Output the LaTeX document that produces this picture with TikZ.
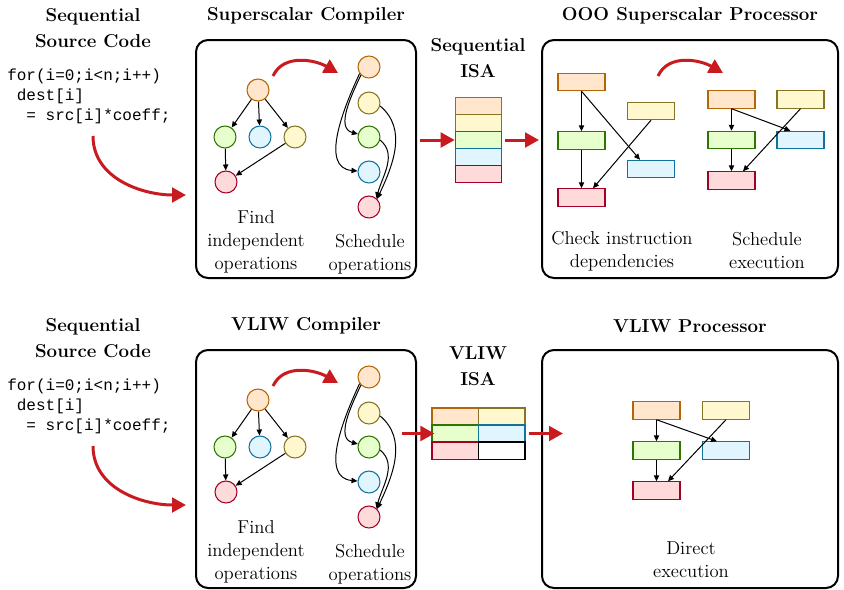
\documentclass[tikz,border=0pt]{standalone}
\usepackage{fontspec}
\usepackage{tikz}
\usetikzlibrary{arrows.meta}
\newfontfamily\codefont{Liberation Mono}

\definecolor{oFill}{HTML}{FFE6CC}
\definecolor{oLine}{HTML}{B46504}
\definecolor{yFill}{HTML}{FFF8CF}
\definecolor{yLine}{HTML}{857524}
\definecolor{gFill}{HTML}{E6FFCC}
\definecolor{gLine}{HTML}{2D7600}
\definecolor{bFill}{HTML}{E1F5FE}
\definecolor{bLine}{HTML}{10739E}
\definecolor{rFill}{HTML}{FFDADA}
\definecolor{rLine}{HTML}{A20025}
\definecolor{flowRed}{HTML}{C91B1F}

\begin{document}
\begin{tikzpicture}[x=0.75pt,y=0.75pt,yscale=-1,xscale=1,
  op/.style={circle, line width=0.8pt, minimum size=16.5pt, inner sep=0pt},
  ins/.style={rectangle, line width=0.8pt, minimum width=35.25pt, minimum height=13pt, inner sep=0pt},
  cell/.style={rectangle, line width=0.8pt, minimum width=34.9pt, minimum height=12.8pt, inner sep=0pt},
  orng/.style={fill=oFill, draw=oLine},
  yllw/.style={fill=yFill, draw=yLine},
  grn/.style={fill=gFill, draw=gLine},
  blu/.style={fill=bFill, draw=bLine},
  rd/.style={fill=rFill, draw=rLine},
  panel/.style={draw, line width=1.5pt, rounded corners=9pt, inner sep=0pt, minimum height=178.5pt},
  heading/.style={font=\fontsize{14}{19.5}\selectfont\bfseries, align=center, inner sep=0pt},
  txt/.style={font=\fontsize{14}{17.25}\selectfont, align=center, inner sep=0pt},
  code/.style={font=\codefont\fontsize{12}{15}\selectfont, align=left, inner sep=0pt, anchor=north west},
  dep/.style={-{Triangle[length=4.5pt,width=4pt]}, line width=0.75pt},
  flow/.style={-{Triangle[length=10.5pt,width=11pt]}, line width=2.25pt, draw=flowRed}]
\useasboundingbox (0,0) rectangle (844,590);

%%%%%%%%%%%%%%%% Superscalar row %%%%%%%%%%%%%%%%
%Text: titles
\node[heading] (srcT1) at (93,28) {Sequential\\Source Code};
\node[heading] (compT1) at (306,16) {Superscalar Compiler};
\node[heading] (isaT1) at (478,58) {Sequential\\ISA};
\node[heading] (procT1) at (690,16) {OOO Superscalar Processor};
%Text: source code
\node[code] (code1) at (7,69) {for(i=0;i<n;i++)\\\hphantom{x}dest[i]\\\hphantom{xx}= src[i]*coeff;};
%Rounded Rect: compiler and processor
\node[panel, minimum width=165pt] (comp1) at (306,159) {};
\node[panel, minimum width=222pt] (proc1) at (690,159) {};

%Curve Lines: code to compiler
\coordinate (cS1) at (93,136);
\coordinate (cE1) at (186,195);
\draw[flow] (cS1) to[out=90,in=180] (cE1);

%Shape: Circle -- dependence graph
\node[op, orng] (a1) at (258,90) {};
\node[op, grn] (a2) at (225,137) {};
\node[op, blu] (a3) at (260,137) {};
\node[op, yllw] (a4) at (295,137) {};
\node[op, rd] (a5) at (226,182) {};
\draw[dep] (a1) -- (a2);
\draw[dep] (a1) -- (a3);
\draw[dep] (a1) -- (a4);
\draw[dep] (a2) -- (a5);
\draw[dep] (a4) -- (a5);

%Curve Lines: find -> schedule
\coordinate (kS1) at (273,76);
\coordinate (kE1) at (338,73);
\draw[flow] (kS1) to[out=-65,in=-150] (kE1);

%Shape: Circle -- scheduled column
\node[op, orng] (s1) at (369,67) {};
\node[op, yllw] (s2) at (369,103) {};
\node[op, grn] (s3) at (369,137) {};
\node[op, blu] (s4) at (369,172) {};
\node[op, rd] (s5) at (369,207) {};
\draw[dep] (s1.225) to[out=115,in=195] (s3.165);
\draw[dep] (s1.215) to[out=115,in=185] (s4.175);
\draw[dep] (s2.-15) to[out=40,in=-65] (s5.45);
\draw[dep] (s3.-15) to[out=40,in=-75] (s5.50);

%Text: compiler labels
\node[txt] (find1) at (256,242) {Find\\independent\\operations};
\node[txt] (sched1) at (370,254) {Schedule\\operations};

%Shape: Rectangle -- sequential ISA
\node[cell, orng] (isa1) at (478.5,105.6) {};
\node[cell, yllw] (isa2) at (478.5,122.8) {};
\node[cell, grn] (isa3) at (478.5,140) {};
\node[cell, blu] (isa4) at (478.5,157.2) {};
\node[cell, rd] (isa5) at (478.5,174.4) {};

%Straight Lines
\draw[flow, shorten <=2.25pt] (comp1.east |- isa3.west) -- (isa3.west);
\draw[flow, shorten <=2.25pt, shorten >=1.5pt] (isa3.east) -- (proc1.west |- isa3.east);

%Shape: Rectangle -- dependency check
\node[ins, orng] (b1) at (581.5,82) {};
\node[ins, yllw] (b2) at (651,111) {};
\node[ins, grn] (b3) at (581.5,140.5) {};
\node[ins, blu] (b4) at (651,169) {};
\node[ins, rd] (b5) at (581.5,197.5) {};
\draw[dep] (b1.south) -- (b3.north);
\draw[dep] (b1.south) -- ([xshift=-8.25pt]b4.north);
\draw[dep] (b3.south) -- (b5.north);
\draw[dep] (b2.south) -- ([xshift=8.6pt]b5.north);

%Curve Lines: check -> schedule
\coordinate (kS2) at (658,76);
\coordinate (kE2) at (723,73);
\draw[flow] (kS2) to[out=-65,in=-150] (kE2);

%Shape: Rectangle -- scheduled execution
\node[ins, orng] (c1) at (731.5,99.5) {};
\node[ins, yllw] (c2) at (800.5,99.5) {};
\node[ins, grn] (c3) at (731.5,140) {};
\node[ins, blu] (c4) at (800.5,140) {};
\node[ins, rd] (c5) at (731.5,180.5) {};
\draw[dep] (c1.south) -- (c3.north);
\draw[dep] (c1.south) -- ([xshift=-7.5pt]c4.north);
\draw[dep] (c3.south) -- (c5.north);
\draw[dep] (c2.south) -- ([xshift=8.6pt]c5.north);

%Text: processor labels
\node[txt] (check1) at (622,251) {Check instruction\\dependencies};
\node[txt] (exec1) at (767,251) {Schedule\\execution};

%%%%%%%%%%%%%%%% VLIW row %%%%%%%%%%%%%%%%
%Text: titles
\node[heading] (srcT2) at (93,338) {Sequential\\Source Code};
\node[heading] (compT2) at (306,326) {VLIW Compiler};
\node[heading] (isaT2) at (478,366) {VLIW\\ISA};
\node[heading] (procT2) at (690,326) {VLIW Processor};
%Text: source code
\node[code] (code2) at (7,379) {for(i=0;i<n;i++)\\\hphantom{x}dest[i]\\\hphantom{xx}= src[i]*coeff;};
%Rounded Rect: compiler and processor
\node[panel, minimum width=165pt] (comp2) at (306,469) {};
\node[panel, minimum width=222pt] (proc2) at (690,469) {};

%Curve Lines: code to compiler
\coordinate (cS2) at (93,446);
\coordinate (cE2) at (186,505);
\draw[flow] (cS2) to[out=90,in=180] (cE2);

%Shape: Circle -- dependence graph
\node[op, orng] (e1) at (258,400) {};
\node[op, grn] (e2) at (225,447) {};
\node[op, blu] (e3) at (260,447) {};
\node[op, yllw] (e4) at (295,447) {};
\node[op, rd] (e5) at (226,492) {};
\draw[dep] (e1) -- (e2);
\draw[dep] (e1) -- (e3);
\draw[dep] (e1) -- (e4);
\draw[dep] (e2) -- (e5);
\draw[dep] (e4) -- (e5);

%Curve Lines: find -> schedule
\coordinate (kS3) at (273,386);
\coordinate (kE3) at (338,383);
\draw[flow] (kS3) to[out=-65,in=-150] (kE3);

%Shape: Circle -- scheduled column
\node[op, orng] (t1) at (369,377) {};
\node[op, yllw] (t2) at (369,413) {};
\node[op, grn] (t3) at (369,447) {};
\node[op, blu] (t4) at (369,482) {};
\node[op, rd] (t5) at (369,517) {};
\draw[dep] (t1.225) to[out=115,in=195] (t3.165);
\draw[dep] (t1.215) to[out=115,in=185] (t4.175);
\draw[dep] (t2.-15) to[out=40,in=-65] (t5.45);
\draw[dep] (t3.-15) to[out=40,in=-75] (t5.50);

%Text: compiler labels
\node[txt] (find2) at (256,552) {Find\\independent\\operations};
\node[txt] (sched2) at (370,564) {Schedule\\operations};

%Shape: Rectangle -- VLIW ISA
\node[cell, orng] (v11) at (455.25,416.5) {};
\node[cell, yllw] (v12) at (501.75,416.5) {};
\node[cell, grn] (v21) at (455.25,433.5) {};
\node[cell, blu] (v22) at (501.75,433.5) {};
\node[cell, rd] (v31) at (455.25,450.5) {};
\node[cell, draw=black, fill=white] (v32) at (501.75,450.5) {};

%Straight Lines
\coordinate (vA) at (402,433.5);
\coordinate (vB) at (563,433.5);
\draw[flow] (vA) -- ([xshift=2.25pt]v21.west);
\draw[flow, shorten <=2.25pt] (v22.east) -- (vB);

%Shape: Rectangle -- direct execution
\node[ins, orng] (d1) at (656.5,410.5) {};
\node[ins, yllw] (d2) at (726,410.5) {};
\node[ins, grn] (d3) at (656.5,450.5) {};
\node[ins, blu] (d4) at (726,450.5) {};
\node[ins, rd] (d5) at (656.5,490.5) {};
\draw[dep] (d1.south) -- (d3.north);
\draw[dep] (d1.south) -- ([xshift=-6.75pt]d4.north);
\draw[dep] (d3.south) -- (d5.north);
\draw[dep] (d2.south) -- ([xshift=8.6pt]d5.north);

%Text: processor label
\node[txt] (direct2) at (691,560) {Direct\\execution};

\end{tikzpicture}
\end{document}
